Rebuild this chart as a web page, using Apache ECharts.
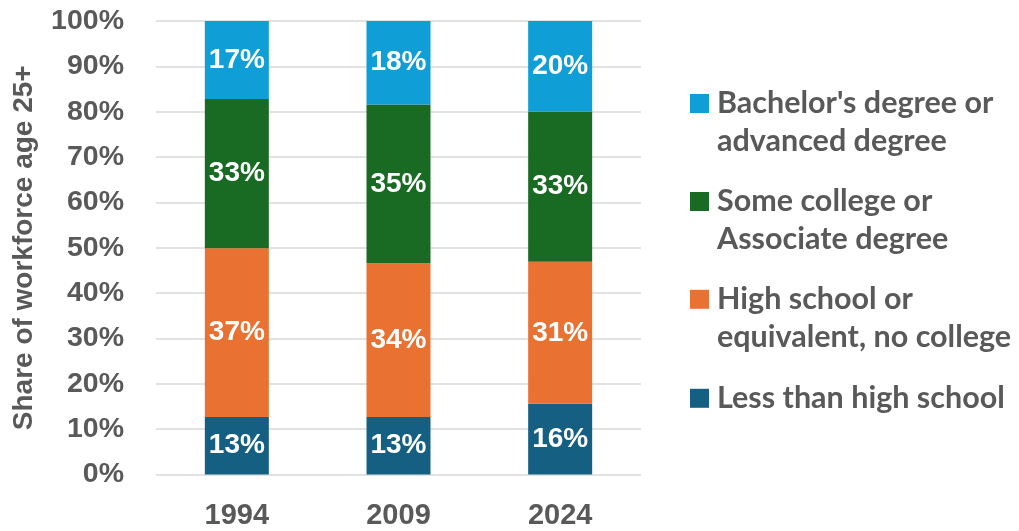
<!DOCTYPE html>
<html>
<head>
<meta charset="utf-8">
<script src="https://cdn.jsdelivr.net/npm/echarts@6/dist/echarts.min.js"></script>
<style>
html,body{margin:0;padding:0;background:#fff;}
#chart{width:1019px;height:531px;}
</style>
</head>
<body>
<div id="chart"></div>
<script>
const years = ['1994', '2009', '2024'];
const lessThanHS = [12.7, 12.7, 15.6];
const highSchool = [37.2, 33.9, 31.3];
const someCollege = [32.9, 35.0, 33.1];
const bachelors = [17.2, 18.4, 20.0];
const seriesNames = [
  'Less than high school',
  'High school or equivalent, no college',
  'Some college or Associate degree',
  "Bachelor's degree or advanced degree"
];
const legendLabels = [
  'Less than high school',
  'High school or\nequivalent, no college',
  'Some college or\nAssociate degree',
  "Bachelor's degree or\nadvanced degree"
];
const colors = ['#156082', '#E97132', '#196B24', '#0F9ED5'];
const yTicks = [0, 10, 20, 30, 40, 50, 60, 70, 80, 90, 100];

const textGray = '#595959';
const axisFont = 'Liberation Sans, Arial, sans-serif';
const legendFont = 'Lato, sans-serif';

const dataSets = [lessThanHS, highSchool, someCollege, bachelors];

const series = dataSets.map((d, i) => ({
  name: seriesNames[i],
  type: 'bar',
  stack: 'total',
  barWidth: 64,
  data: d,
  itemStyle: { color: colors[i] },
  label: {
    show: true,
    position: 'inside',
    color: '#fff',
    fontFamily: axisFont,
    fontWeight: 'bold',
    fontSize: 28,
    formatter: p => Math.round(p.value) + '%'
  }
}));

// legend: one component per item, top-to-bottom from Bachelor's down
const legendCenters = [103.5, 201.5, 299.3, 398.3];
const legends = [3, 2, 1, 0].map((si, k) => {
  const twoLine = legendLabels[si].indexOf('\n') >= 0;
  const c = legendCenters[k];
  return {
    orient: 'vertical',
    left: 690,
    top: twoLine ? c - 57 : c - 19,
    padding: 0,
    icon: 'rect',
    itemWidth: 19,
    itemHeight: 19,
    data: [seriesNames[si]],
    // a leading empty line keeps the icon level with the first text line
    formatter: () => (twoLine ? '\n' : '') + legendLabels[si],
    textStyle: {
      color: textGray,
      fontFamily: legendFont,
      fontWeight: 'bold',
      fontSize: 30.5,
      lineHeight: 38,
      padding: [0, 0, 0, 3]
    }
  };
});

const chart = echarts.init(document.getElementById('chart'));
chart.setOption({
  backgroundColor: '#fff',
  animation: false,
  color: colors,
  grid: { left: 156, right: 378, top: 21, bottom: 56.5, containLabel: false },
  legend: legends,
  xAxis: {
    type: 'category',
    data: years,
    axisTick: { show: false },
    axisLine: { show: false },
    axisLabel: {
      color: textGray,
      fontFamily: axisFont,
      fontWeight: 'bold',
      fontSize: 29,
      margin: 27
    }
  },
  yAxis: {
    type: 'value',
    min: yTicks[0],
    max: yTicks[yTicks.length - 1],
    interval: 10,
    name: 'Share of workforce age 25+',
    nameLocation: 'middle',
    nameRotate: 90,
    nameGap: 118,
    nameTextStyle: {
      color: textGray,
      fontFamily: axisFont,
      fontWeight: 'bold',
      fontSize: 28
    },
    axisLine: { show: false },
    axisTick: { show: false },
    axisLabel: {
      color: textGray,
      fontFamily: axisFont,
      fontWeight: 'bold',
      fontSize: 28.5,
      margin: 32,
      formatter: '{value}%'
    },
    splitLine: { lineStyle: { color: '#d9d9d9', width: 1.5 } }
  },
  series: series
});
</script>
</body>
</html>
